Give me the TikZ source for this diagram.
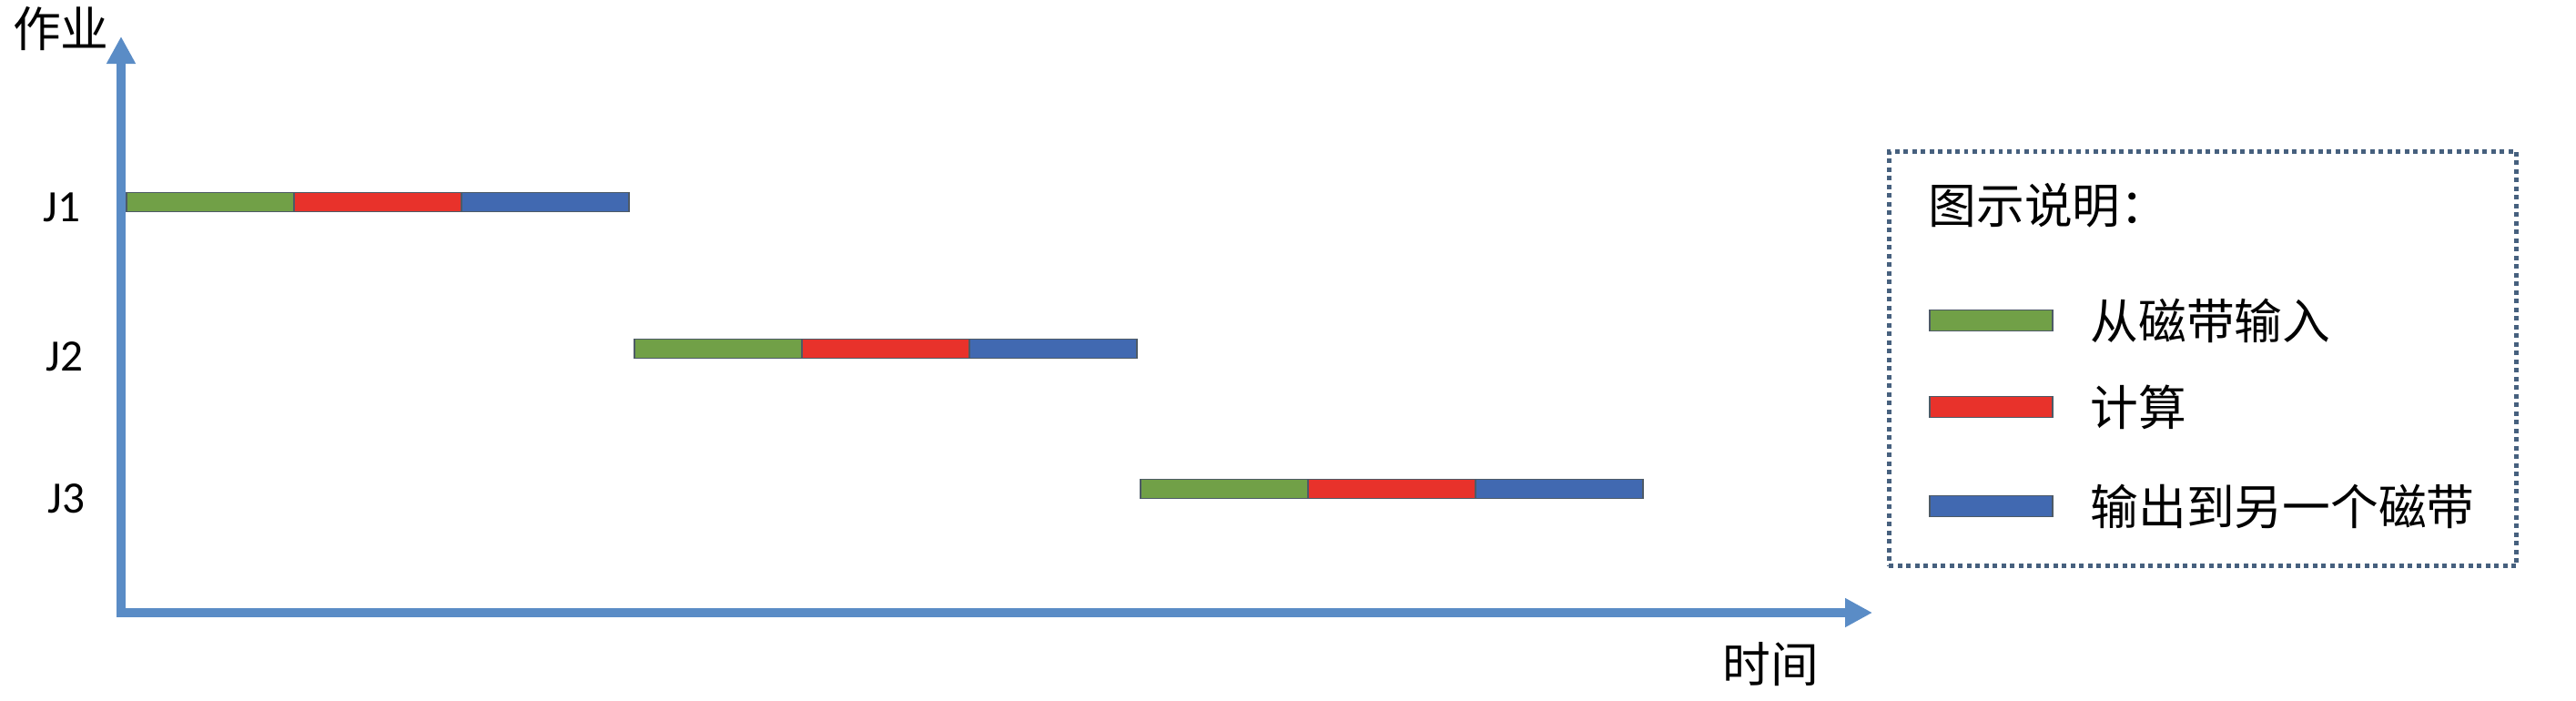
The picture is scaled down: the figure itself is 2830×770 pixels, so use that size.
\documentclass[tikz,border=0pt]{standalone}
\usepackage{fontspec}
\setmainfont{Carlito}
\newfontfamily\cjk{Noto Sans CJK SC}
\usepackage{tikz}
\usetikzlibrary{arrows.meta, positioning}

\definecolor{inGreen}{HTML}{71A047}
\definecolor{cpuRed}{HTML}{E8322B}
\definecolor{outBlue}{HTML}{4169B1}
\definecolor{axisBlue}{HTML}{5A8CC6}
\definecolor{edgeGray}{HTML}{4D5A66}
\definecolor{frameBlue}{HTML}{46607E}

\begin{document}
\begin{tikzpicture}[
    x=0.01cm, y=-0.01cm,
    >={Triangle[length=0.3cm, width=0.3cm]},
    axis/.style={<->, draw=axisBlue, line width=3.1pt, line join=miter},
    seg/.style={rectangle, draw=edgeGray, line width=0.5pt, minimum width=1.84cm, minimum height=0.21cm, inner sep=0pt, outer sep=0pt},
    key/.style={rectangle, draw=edgeGray, line width=0.5pt, minimum width=1.35cm, minimum height=0.23cm, inner sep=0pt},
    job/.style={font=\fontsize{14pt}{16pt}\selectfont},
    cjklabel/.style={font=\cjk\fontsize{15pt}{18pt}\selectfont, inner sep=0pt},
    legendbox/.style={rectangle, draw=frameBlue, line width=1.4pt, dash pattern=on 1.4pt off 1.3pt, inner sep=0pt}
]
    \useasboundingbox (0,0) rectangle (2830,770);

    % Axes
    \coordinate (org) at (133,673);
    \coordinate (ytop) at (133,40);
    \coordinate (xend) at (2057,673);
    \draw[axis] (ytop) -- (org) -- (xend);
    \node[cjklabel] (ylab) at (67,32) {作业};
    \node[cjklabel] (xlab) at (1945,730) {时间};

    % Jobs
    \node[job] (j1) at (68,228) {J1};
    \node[job] (j2) at (71,392) {J2};
    \node[job] (j3) at (73,548) {J3};

    % J1 bar
    \node[seg, fill=inGreen, anchor=west] (j1in) at (139,222) {};
    \node[seg, fill=cpuRed, right=0pt of j1in] (j1cpu) {};
    \node[seg, fill=outBlue, right=0pt of j1cpu] (j1out) {};

    % J2 bar
    \node[seg, fill=inGreen, anchor=west] (j2in) at (697,383) {};
    \node[seg, fill=cpuRed, right=0pt of j2in] (j2cpu) {};
    \node[seg, fill=outBlue, right=0pt of j2cpu] (j2out) {};

    % J3 bar
    \node[seg, fill=inGreen, anchor=west] (j3in) at (1253,537) {};
    \node[seg, fill=cpuRed, right=0pt of j3in] (j3cpu) {};
    \node[seg, fill=outBlue, right=0pt of j3cpu] (j3out) {};

    % Legend
    \node[legendbox, minimum width=6.89cm, minimum height=4.55cm, anchor=north west] (legend) at (2073,164) {};
    \node[cjklabel, anchor=west] (ltitle) at (2118,226) {图示说明：};
    \node[key, fill=inGreen, anchor=west] (kin) at (2119,352) {};
    \node[cjklabel, right=0.4cm of kin] (tin) {从磁带输入};
    \node[key, fill=cpuRed, anchor=west] (kcpu) at (2119,447) {};
    \node[cjklabel, right=0.4cm of kcpu] (tcpu) {计算};
    \node[key, fill=outBlue, anchor=west] (kout) at (2119,556) {};
    \node[cjklabel, right=0.4cm of kout] (tout) {输出到另一个磁带};
\end{tikzpicture}
\end{document}
